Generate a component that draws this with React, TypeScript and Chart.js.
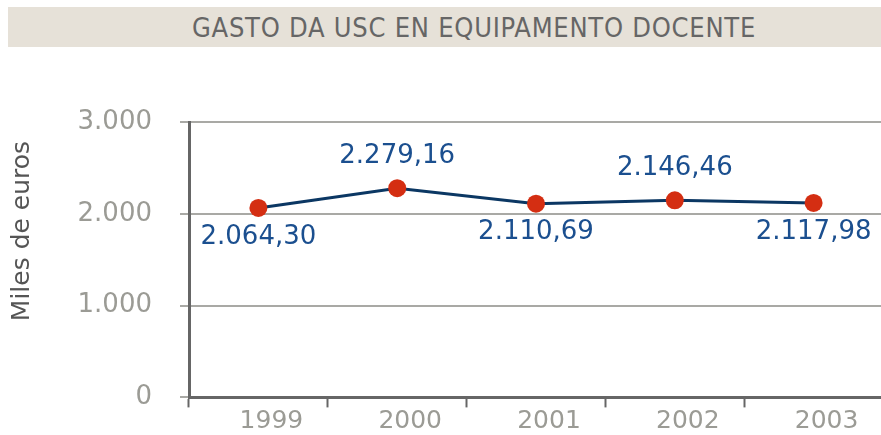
import React, { useEffect, useRef } from "react";
import { Chart, registerables } from "chart.js";

Chart.register(...registerables);

const categories = ["1999", "2000", "2001", "2002", "2003"];
const gasto = [2064.3, 2279.16, 2110.69, 2146.46, 2117.98];
const gastoLabels = ["2.064,30", "2.279,16", "2.110,69", "2.146,46", "2.117,98"];
const labelSides = ["below", "above", "below", "above", "below"];
const yTicks = [0, 1000, 2000, 3000];
const yTickLabels = ["0", "1.000", "2.000", "3.000"];

const TITLE = "GASTO DA USC EN EQUIPAMENTO DOCENTE";
const Y_TITLE = "Miles de euros";

export default function App() {
  const ref = useRef<HTMLCanvasElement | null>(null);

  useEffect(() => {
    if (!ref.current) return;
    const extras = {
      id: "extras",
      afterDatasetsDraw(chart: any) {
        const ctx = chart.ctx;
        const meta = chart.getDatasetMeta(0);
        ctx.save();
        ctx.font = "26px 'DejaVu Sans'";
        ctx.fillStyle = "#1b4f8f";
        ctx.textAlign = "center";
        ctx.textBaseline = "middle";
        meta.data.forEach((pt: any, i: number) => {
          const dy = labelSides[i] === "above" ? -32 : 29;
          ctx.fillText(gastoLabels[i], pt.x, pt.y + dy);
        });
        ctx.restore();
        ctx.save();
        ctx.translate(22, 231);
        ctx.rotate(-Math.PI / 2);
        ctx.font = "25px 'DejaVu Sans'";
        ctx.fillStyle = "#555555";
        ctx.textAlign = "center";
        ctx.textBaseline = "middle";
        ctx.fillText(Y_TITLE, 0, 0);
        ctx.restore();
      },
    };
    const chart = new Chart(ref.current, {
      type: "line",
      data: {
        labels: categories,
        datasets: [
          {
            data: gasto,
            borderColor: "#0b3763",
            borderWidth: 3,
            pointRadius: 9,
            pointHoverRadius: 9,
            pointBackgroundColor: "#d42e12",
            pointBorderColor: "#d42e12",
            pointBorderWidth: 0,
            tension: 0,
            clip: false as any,
          },
        ],
      },
      options: {
        responsive: false,
        animation: false,
        events: [],
        layout: { padding: { top: 122, right: 2, left: 0, bottom: 0 } },
        plugins: { legend: { display: false }, tooltip: { enabled: false }, title: { display: false } },
        scales: {
          x: {
            type: "category",
            offset: true,
            grid: {
              offset: true,
              drawOnChartArea: false,
              drawTicks: true,
              tickLength: 10,
              tickColor: "#666666",
              tickWidth: 2,
            },
            border: { display: true, color: "#666666", width: 3 },
            ticks: {
              color: "#9b9b95",
              font: { family: "'DejaVu Sans'", size: 25, lineHeight: 0.96 },
              padding: 2,
              labelOffset: 13,
              maxRotation: 0,
              autoSkip: false,
            },
          },
          y: {
            min: 0,
            max: 3000,
            afterFit: (s: any) => {
              s.width = 189;
            },
            afterBuildTicks: (s: any) => {
              s.ticks = yTicks.map((v) => ({ value: v }));
            },
            grid: {
              color: (c: any) => (c.tick && c.tick.value === 0 ? "rgba(0,0,0,0)" : "#a9a9a5"),
              lineWidth: 2,
              tickLength: 9,
              tickColor: "#a9a9a5",
            },
            border: { display: true, color: "#666666", width: 3 },
            ticks: {
              color: "#9b9b95",
              font: { family: "'DejaVu Sans'", size: 26 },
              padding: 28,
              callback: (v: any) => {
                const i = yTicks.indexOf(Number(v));
                return i >= 0 ? yTickLabels[i] : "";
              },
            },
          },
        },
      },
      plugins: [extras],
    });
    return () => chart.destroy();
  }, []);

  return (
    <div style={{ position: "fixed", left: 0, top: 0, width: 881, height: 435, overflow: "hidden", background: "#ffffff" }}>
      <div
        style={{
          position: "absolute",
          left: 8,
          top: 7,
          width: 873,
          height: 40,
          background: "#e6e1d8",
        }}
      />
      <div
        style={{
          position: "absolute",
          left: 192,
          top: 8,
          height: 40,
          lineHeight: "40px",
          fontFamily: "'DejaVu Sans Condensed', 'DejaVu Sans'",
          fontStretch: "condensed",
          fontSize: 27,
          letterSpacing: "0.75px",
          color: "#666666",
          whiteSpace: "nowrap",
        }}
      >
        {TITLE}
      </div>
      <canvas ref={ref} width={892} height={441} style={{ position: "absolute", left: 0, top: 0, width: 892, height: 441 }} />
    </div>
  );
}
